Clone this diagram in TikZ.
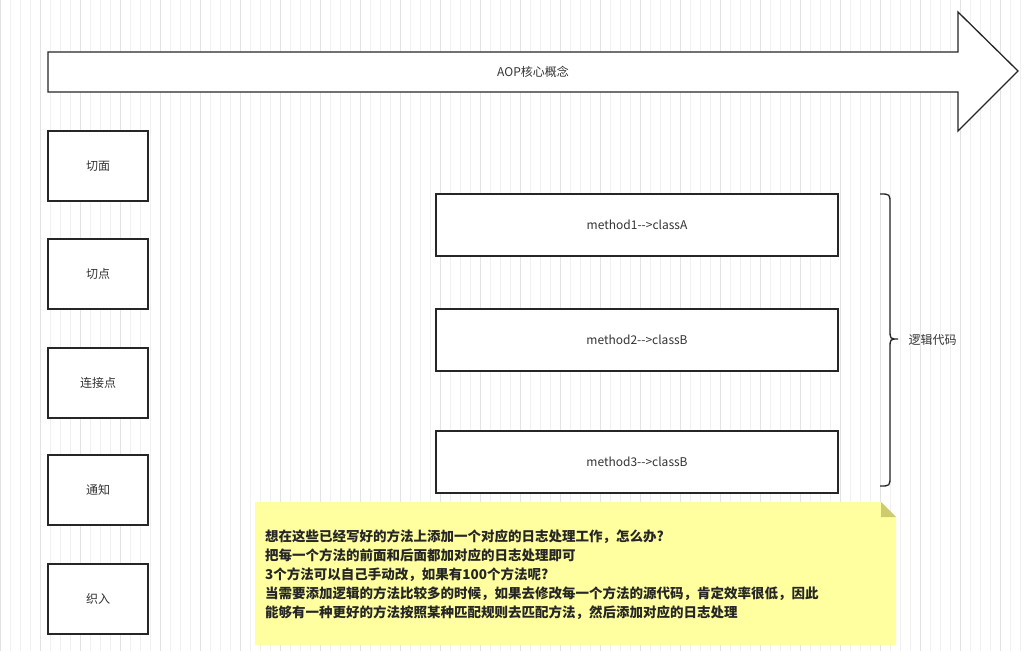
\documentclass[tikz,border=0pt]{standalone}
\usepackage{fontspec}
\setmainfont{Noto Sans CJK SC}
\definecolor{notey}{RGB}{255,255,160}
\definecolor{notefold}{RGB}{204,204,110}
\begin{document}
\begin{tikzpicture}[x=1pt,y=-1pt,
  box/.style={draw=black!85,line width=1.3pt,fill=white,inner sep=0pt,font=\fontsize{12}{14}\selectfont,text=black!80},
]
\useasboundingbox (0,0) rectangle (1025,651);
\fill[white] (0,0) rectangle (1025,651);
\draw[black!6,line width=0.6pt,step=10] (0,0) grid (1025,651);
\draw[black!11,line width=0.6pt,step=40] (0,0) grid (1025,651);
% big arrow
\draw[black!85,line width=1.3pt,fill=white] (48,52) -- (958,52) -- (958,12) -- (1018,71) -- (958,131) -- (958,92) -- (48,92) -- cycle;
\node[font=\fontsize{12}{14}\selectfont,text=black!80] (arr) at (533,72) {AOP核心概念};
% left boxes
\node[box,minimum width=100,minimum height=70] (qm) at (98,166) {切面};
\node[box,minimum width=100,minimum height=70] (qd) at (98,274) {切点};
\node[box,minimum width=100,minimum height=70] (ljd) at (98,383) {连接点};
\node[box,minimum width=100,minimum height=70] (tz) at (98,490) {通知};
\node[box,minimum width=100,minimum height=70] (zr) at (98,599) {织入};
% method boxes
\node[box,minimum width=402,minimum height=62] (m1) at (637,225) {method1-{}->classA};
\node[box,minimum width=402,minimum height=62] (m2) at (637,340) {method2-{}->classB};
\node[box,minimum width=402,minimum height=62] (m3) at (637,462) {method3-{}->classB};
% brace
\draw[black!85,line width=1.3pt] (880,194) .. controls (890,194) .. (890,204) -- (890,329) .. controls (890,339) .. (898,339) .. controls (890,339) .. (890,349) -- (890,476) .. controls (890,486) .. (880,486);
\node[font=\fontsize{12}{14}\selectfont,text=black!80,anchor=west] (lj) at (905,340) {逻辑代码};
% note
\fill[notey] (255,502) -- (881,502) -- (881,517) -- (896,517) -- (896,645) -- (255,645) -- cycle;
\fill[notefold] (881,502) -- (896,517) -- (881,517) -- cycle;
\node[anchor=north west,align=left,font=\bfseries\fontsize{13.5}{19}\selectfont,text=black!85,inner sep=0pt] (note) at (265,530) {想在这些已经写好的方法上添加一个对应的日志处理工作，怎么办?\\把每一个方法的前面和后面都加对应的日志处理即可\\3个方法可以自己手动改，如果有100个方法呢?\\当需要添加逻辑的方法比较多的时候，如果去修改每一个方法的源代码，肯定效率很低，因此\\能够有一种更好的方法按照某种匹配规则去匹配方法，然后添加对应的日志处理};
\end{tikzpicture}
\end{document}
